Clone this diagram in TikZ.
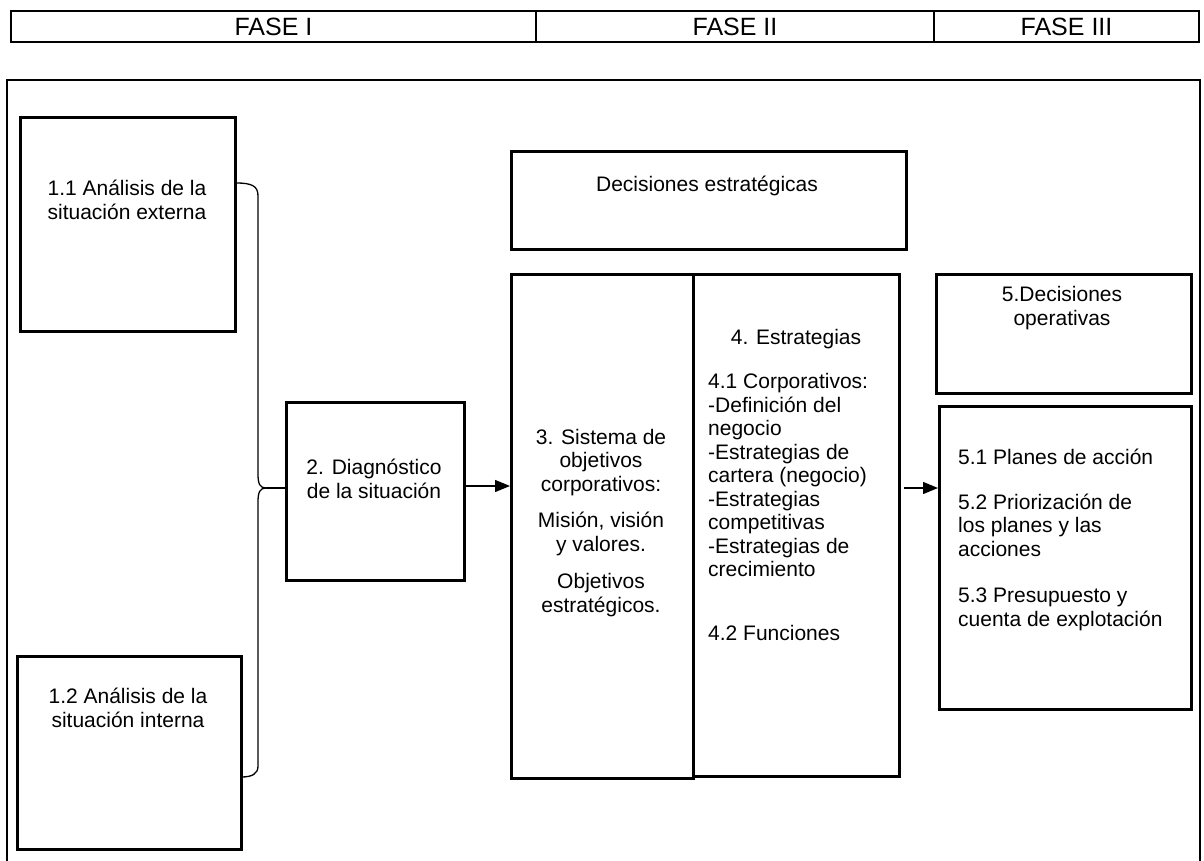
\documentclass[tikz,border=0pt]{standalone}
\usepackage{fontspec}
\setmainfont{Liberation Sans}
\usetikzlibrary{arrows.meta}
\begin{document}
\begin{tikzpicture}[x=1pt,y=-1pt,
  box/.style={draw, line width=2.8pt, inner sep=0pt, anchor=north west},
  hcell/.style={draw, line width=2pt, inner sep=0pt, anchor=north west, minimum height=31pt, font=\fontsize{25}{27}\selectfont},
  txt/.style={inner sep=0pt, font=\fontsize{21}{23.5}\selectfont},
  conn/.style={line width=1.3pt},
  arr/.style={line width=1.3pt, -{Triangle[length=15pt,width=12pt]}}]
\clip (0,0) rectangle (1204,861);
\fill[white] (0,0) rectangle (1204,861);
% header
\node[hcell, minimum width=525pt] (h1) at (10,10) {FASE I};
\node[hcell, minimum width=398pt] (h2) at (535,10) {FASE II};
\node[hcell, minimum width=265pt] (h3) at (933,10) {FASE III};
% outer frame
\draw[line width=2.8pt] (7,920) -- (7,80) -- (1200,80) -- (1200,920);
% boxes
\node[box, minimum width=215pt, minimum height=214pt] (b11) at (19,116) {};
\node[box, minimum width=224pt, minimum height=193pt] (b12) at (16,655) {};
\node[box, minimum width=178pt, minimum height=178pt] (b2) at (285,401) {};
\node[box, minimum width=395pt, minimum height=98pt] (bde) at (510,150) {};
\node[box, minimum width=182pt, minimum height=504pt] (b3) at (510,273) {};
\node[box, minimum width=206pt, minimum height=502pt] (b4) at (692,273) {};
\node[box, minimum width=255pt, minimum height=119pt] (bdo) at (935,273) {};
\node[box, minimum width=252pt, minimum height=303pt] (b5) at (938,405) {};
% texts
\node[txt, align=center] (t11) at (127,200) {1.1 Análisis de la\\situación externa};
\node[txt, align=center] (t12) at (128,708) {1.2 Análisis de la\\situación interna};
\node[txt, align=center] (t2) at (374,479) {2. Diagnóstico\\de la situación};
\node[txt] (tde) at (707,186) {Decisiones estratégicas};
\node[txt, align=center] (t3) at (601,523) {3. Sistema de\\objetivos\\corporativos:\\[13pt]Misión, visión\\y valores.\\[14pt]Objetivos\\estratégicos.};
\node[txt] (t4a) at (796,339) {4. Estrategias};
\node[txt, align=left, anchor=west] (t4b) at (708,507) {4.1 Corporativos:\\-Definición del\\negocio\\-Estrategias de\\cartera (negocio)\\-Estrategias\\competitivas\\-Estrategias de\\crecimiento\\[40pt]4.2 Funciones};
\node[txt, align=center] (t5a) at (1062,308) {5.Decisiones\\operativas};
\node[txt, align=left, anchor=west] (t5b) at (958,540) {5.1 Planes de acción\\[21pt]5.2 Priorización de\\los planes y las\\acciones\\[23pt]5.3 Presupuesto y\\cuenta de explotación};
% brace
\coordinate (bt) at (236,183);
\coordinate (bm) at (266,488);
\coordinate (bb) at (241,777);
\draw[conn] (bt) .. controls (252,183) and (258,186) .. (258,196) -- (258,474)
  .. controls (258,484) and (260,488) .. (bm)
  .. controls (260,488) and (258,492) .. (258,502) -- (258,766)
  .. controls (258,774) and (252,777) .. (bb);
\draw[conn] (bm) -- (b2.west |- bm);
% arrows
\coordinate (a2) at (463,486);
\draw[arr] (b2.east |- a2) -- (b3.west |- a2);
\coordinate (a4) at (904,488);
\draw[arr] (a4) -- (b5.west |- a4);
\end{tikzpicture}
\end{document}
